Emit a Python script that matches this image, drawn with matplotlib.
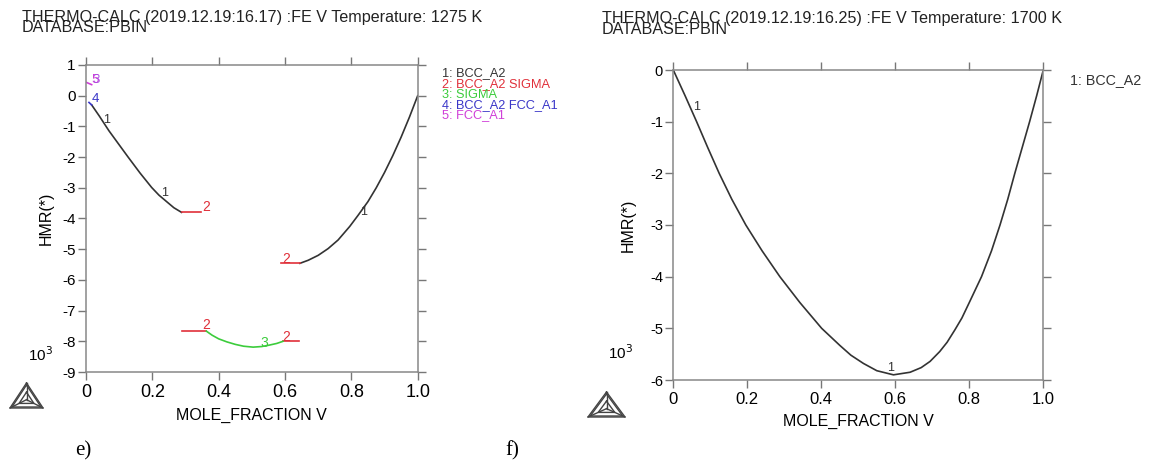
import matplotlib
matplotlib.use('Agg')
import matplotlib.pyplot as plt
from matplotlib.lines import Line2D

plt.rcParams['font.family'] = ['Liberation Sans', 'DejaVu Sans']

# ---- data: panel e) 1275 K ----
e_bcc_left_x = [0.017, 0.04, 0.069, 0.10, 0.127, 0.163, 0.198, 0.22, 0.243, 0.265, 0.288]
e_bcc_left_y = [-0.30, -0.66, -1.14, -1.6, -2.0, -2.52, -2.99, -3.24, -3.45, -3.65, -3.80]
e_bcc_right_x = [0.645, 0.67, 0.70, 0.73, 0.76, 0.795, 0.82, 0.85, 0.875, 0.90, 0.925, 0.95, 0.975, 1.0]
e_bcc_right_y = [-5.46, -5.36, -5.2, -4.98, -4.7, -4.26, -3.9, -3.45, -3.0, -2.5, -1.95, -1.35, -0.7, 0.0]
e_bcc_sigma_a_x = [0.288, 0.348]
e_bcc_sigma_a_y = [-3.80, -3.80]
e_bcc_sigma_b_x = [0.589, 0.645]
e_bcc_sigma_b_y = [-5.46, -5.46]
e_bcc_sigma_c_x = [0.288, 0.363]
e_bcc_sigma_c_y = [-7.67, -7.67]
e_bcc_sigma_d_x = [0.594, 0.642]
e_bcc_sigma_d_y = [-8.0, -8.0]
e_sigma_x = [0.363, 0.38, 0.40, 0.425, 0.45, 0.475, 0.504, 0.53, 0.55, 0.575, 0.594]
e_sigma_y = [-7.67, -7.8, -7.92, -8.02, -8.1, -8.16, -8.19, -8.17, -8.13, -8.07, -8.0]
e_bcc_fcc_x = [0.009, 0.017]
e_bcc_fcc_y = [-0.22, -0.30]
e_fcc_x = [0.002, 0.017]
e_fcc_y = [0.43, 0.36]

# ---- data: panel f) 1700 K ----
f_bcc_x = [0.0, 0.032, 0.063, 0.093, 0.124, 0.158, 0.196, 0.24, 0.288, 0.342, 0.401,
           0.45, 0.48, 0.514, 0.55, 0.595, 0.64, 0.67, 0.694, 0.72, 0.74, 0.761, 0.78,
           0.80, 0.833, 0.86, 0.883, 0.904, 0.923, 0.943, 0.963, 0.982, 1.0]
f_bcc_y = [0.0, -0.5, -1.0, -1.5, -2.0, -2.5, -3.0, -3.5, -4.0, -4.5, -5.0,
           -5.33, -5.52, -5.68, -5.82, -5.90, -5.85, -5.76, -5.64, -5.45, -5.27, -5.03, -4.8,
           -4.5, -4.0, -3.5, -3.0, -2.5, -2.0, -1.5, -1.0, -0.5, 0.0]

x_ticks = [0, 0.2, 0.4, 0.6, 0.8, 1.0]
x_ticklabels = ['0', '0.2', '0.4', '0.6', '0.8', '1.0']
e_y_ticks = list(range(-9, 2))
f_y_ticks = list(range(-6, 1))

legend_e = ['1: BCC_A2', '2: BCC_A2 SIGMA', '3: SIGMA', '4: BCC_A2 FCC_A1', '5: FCC_A1']
legend_f = ['1: BCC_A2']

BLACK = '#333333'
RED = '#e0303a'
GREEN = '#3ccc3c'
BLUE = '#3a36c8'
MAGENTA = '#d040d8'
legend_colors = [BLACK, RED, GREEN, BLUE, MAGENTA]

W, H = 1157, 461
fig = plt.figure(figsize=(W / 100, H / 100), dpi=100)


def px(x, y):
    return x / W, 1 - y / H


def style_axes(ax, yticks, ylim, xfs, yfs):
    ax.set_xlim(0, 1)
    ax.set_ylim(*ylim)
    ax.set_xticks(x_ticks)
    ax.set_xticklabels(x_ticklabels)
    ax.set_yticks(yticks)
    ax.set_yticklabels([str(v) for v in yticks])
    ax.tick_params(axis='x', which='both', direction='out', length=5.5, width=1,
                   color='#777777', top=True, labelsize=xfs, pad=3)
    ax.tick_params(axis='y', which='both', direction='out', length=5.5, width=1,
                   color='#777777', right=True, labelsize=yfs, pad=2)
    for s in ax.spines.values():
        s.set_color('#888888')
        s.set_linewidth(1.1)
    ax.set_xlabel('MOLE_FRACTION V', fontsize=11.5, labelpad=5)


def logo(x0, y0, w, h):
    # thermo-calc style triangle mark (pixel box)
    ax_, ay_ = x0 + w / 2, y0
    bx, by = x0, y0 + h
    cx, cy = x0 + w, y0 + h
    gx, gy = (ax_ + bx + cx) / 3, (ay_ + by + cy) / 3
    pts = [(ax_, ay_), (bx, by), (cx, cy), (ax_, ay_)]
    for k in (0.0, 0.12):
        tri = [(gx + (1 - k) * (p[0] - gx), gy + (1 - k) * (p[1] - gy)) for p in pts]
        xs, ys = zip(*[px(*p) for p in tri])
        fig.add_artist(Line2D(xs, ys, color='#444444', lw=1.0))
    inner = [(gx + 0.45 * (p[0] - gx), gy + 0.45 * (p[1] - gy)) for p in pts]
    xs, ys = zip(*[px(*p) for p in inner])
    fig.add_artist(Line2D(xs, ys, color='#444444', lw=1.0))
    for p in pts[:3]:
        xs, ys = zip(px(gx, gy), px(*p))
        fig.add_artist(Line2D(xs, ys, color='#444444', lw=1.0))


# ---------------- panel e ----------------
l, b = px(86, 372)
r, t = px(417.7, 65)
ax1 = fig.add_axes([l, b, r - l, t - b])
ax1.plot(e_bcc_left_x, e_bcc_left_y, color=BLACK, lw=1.2)
ax1.plot(e_bcc_right_x, e_bcc_right_y, color=BLACK, lw=1.2)
for xs, ys in [(e_bcc_sigma_a_x, e_bcc_sigma_a_y), (e_bcc_sigma_b_x, e_bcc_sigma_b_y),
               (e_bcc_sigma_c_x, e_bcc_sigma_c_y), (e_bcc_sigma_d_x, e_bcc_sigma_d_y)]:
    ax1.plot(xs, ys, color=RED, lw=1.2)
ax1.plot(e_sigma_x, e_sigma_y, color=GREEN, lw=1.2)
ax1.plot(e_bcc_fcc_x, e_bcc_fcc_y, color=BLUE, lw=1.2)
ax1.plot(e_fcc_x, e_fcc_y, color=MAGENTA, lw=1.2)
style_axes(ax1, e_y_ticks, (-9, 1), 13, 11)
ax1.set_ylabel('HMR(*)', fontsize=11.5, labelpad=6)

lab = dict(fontsize=9, ha='center', va='center')
num = dict(fontsize=10, ha='center', va='center')
ax1.text(0.062, -0.78, '1', color=BLACK, **lab)
ax1.text(0.238, -3.17, '1', color=BLACK, **lab)
ax1.text(0.837, -3.8, '1', color=BLACK, **lab)
ax1.text(0.363, -3.63, '2', color=RED, **num)
ax1.text(0.605, -5.32, '2', color=RED, **num)
ax1.text(0.363, -7.47, '2', color=RED, **num)
ax1.text(0.604, -7.85, '2', color=RED, **num)
ax1.text(0.537, -8.05, '3', color=GREEN, **num)
ax1.text(0.028, -0.11, '4', color=BLUE, fontsize=9.5, ha='center', va='center')
ax1.text(0.027, 0.52, '5', color=MAGENTA, fontsize=9.5, ha='center', va='center')
ax1.text(0.030, 0.50, '3', color='#a040e0', fontsize=9.5, ha='center', va='center', alpha=0.8)

for i, (txt, c) in enumerate(zip(legend_e, legend_colors)):
    fig.text(*px(441.7, 73.5 + i * 10.5), txt, color=c, fontsize=9.2, va='center', ha='left')

fig.text(*px(22, 32), 'THERMO-CALC (2019.12.19:16.17) :FE V Temperature: 1275 K\nDATABASE:PBIN',
         fontsize=11.6, va='baseline', ha='left', color='#222222', linespacing=0.6)
fig.text(*px(28, 361), r'10$^3$', fontsize=11, va='baseline', ha='left')
logo(10, 383, 33, 25)
fig.text(*px(75, 455), 'e)', family='Liberation Serif', fontsize=15, va='baseline', ha='left')

# ---------------- panel f ----------------
l, b = px(673.3, 380)
r, t = px(1043.3, 70)
ax2 = fig.add_axes([l, b, r - l, t - b])
ax2.plot(f_bcc_x, f_bcc_y, color=BLACK, lw=1.2)
style_axes(ax2, f_y_ticks, (-6, 0), 12, 10.5)
ax2.set_ylabel('HMR(*)', fontsize=11.5, labelpad=10)
ax2.text(0.063, -0.71, '1', color=BLACK, **lab)
ax2.text(0.587, -5.76, '1', color=BLACK, **lab)

fig.text(*px(1070, 80), legend_f[0], color=BLACK, fontsize=10.3, va='center', ha='left')
fig.text(*px(601.7, 33.5), 'THERMO-CALC (2019.12.19:16.25) :FE V Temperature: 1700 K\nDATABASE:PBIN',
         fontsize=11.6, va='baseline', ha='left', color='#222222', linespacing=0.6)
fig.text(*px(608, 359), r'10$^3$', fontsize=11, va='baseline', ha='left')
logo(588, 392, 37, 25)
fig.text(*px(505, 455), 'f)', family='Liberation Serif', fontsize=15, va='baseline', ha='left')

fig.savefig('out.png', dpi=100)
